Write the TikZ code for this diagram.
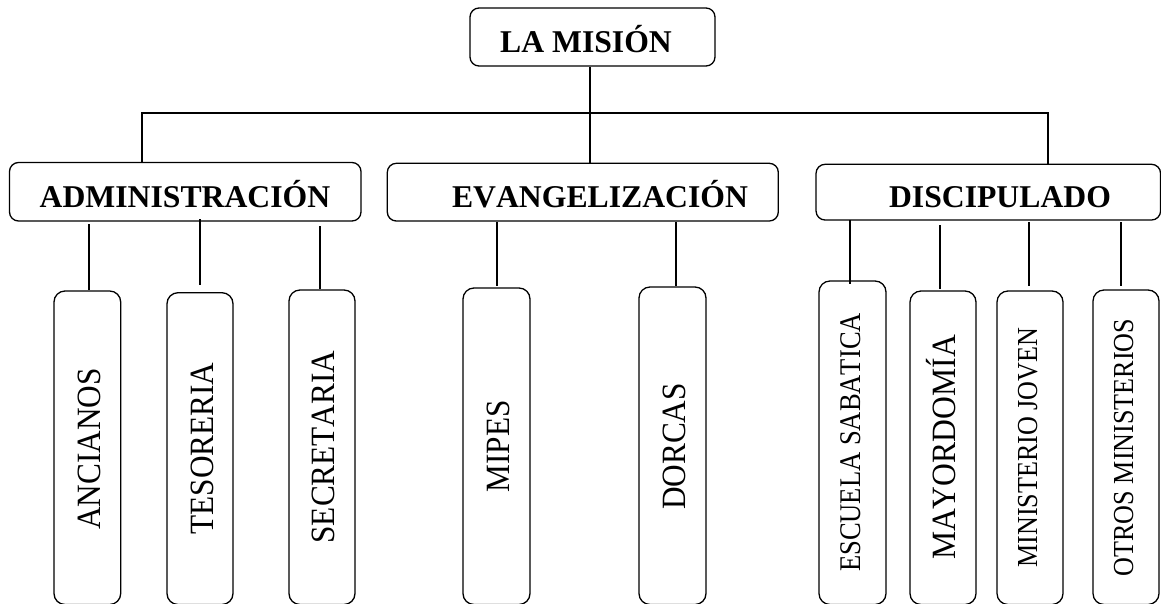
\documentclass[tikz,border=0pt]{standalone}
\usepackage{fontspec}
\setmainfont[Kerning=Off]{Liberation Serif}
\newcommand{\vtx}[3]{\fontsize{#1}{#1}\selectfont\scalebox{#2}[1]{#3}}
\begin{document}
\begin{tikzpicture}[x=1pt,y=-1pt,
  line width=1.3pt,
  hbox/.style={draw, rounded corners=9pt, inner sep=0pt},
  vbox/.style={draw, rounded corners=11pt, inner sep=0pt},
  htext/.style={font=\fontsize{31.7}{32}\selectfont\bfseries, anchor=base, inner sep=0pt},
  vtext/.style={rotate=90, anchor=base, inner sep=0pt},
  link/.style={line width=1.3pt}]

\useasboundingbox (0,0) rectangle (1161,603);

% ---- boxes ----
\node[hbox, minimum width=245pt, minimum height=58pt] (top) at (592.5,37) {};
\node[hbox, minimum width=351.5pt, minimum height=58.5pt] (adm) at (185.25,191.75) {};
\node[hbox, minimum width=391pt, minimum height=57.7pt] (eva) at (582.8,192.15) {};
\node[hbox, minimum width=344.5pt, minimum height=55.7pt] (dis) at (988.3,192.15) {};

\node[vbox, minimum width=66.7pt, minimum height=313.5pt] (anc) at (87.35,447.75) {};
\node[vbox, minimum width=66pt, minimum height=311.8pt] (tes) at (200,448.6) {};
\node[vbox, minimum width=66pt, minimum height=314.5pt] (sec) at (322,447.25) {};
\node[vbox, minimum width=67pt, minimum height=316.5pt] (mip) at (496.5,446.25) {};
\node[vbox, minimum width=67pt, minimum height=317.5pt] (dor) at (672.5,445.75) {};
\node[vbox, minimum width=67pt, minimum height=323.5pt] (esc) at (852.5,442.75) {};
\node[vbox, minimum width=66pt, minimum height=313.5pt] (may) at (943,447.75) {};
\node[vbox, minimum width=66pt, minimum height=313.5pt] (min) at (1030,447.75) {};
\node[vbox, minimum width=66pt, minimum height=314.5pt] (otr) at (1126,447.25) {};

% ---- texts ----
\node[htext] (tTop) at (586,52) {LA MISIÓN};
\node[htext] (tAdm) at (185,207) {ADMINISTRACIÓN};
\node[htext] (tEva) at (600,207) {EVANGELIZACIÓN};
\node[htext] (tDis) at (1000,207) {DISCIPULADO};

\node[vtext] (lAnc) at (100,449) {\vtx{34}{0.92}{ANCIANOS}};
\node[vtext] (lTes) at (213,448.5) {\vtx{34}{0.92}{TESORERIA}};
\node[vtext] (lSec) at (334,447) {\vtx{34}{0.92}{SECRETARIA}};
\node[vtext] (lMip) at (509,446.5) {\vtx{34}{0.92}{MIPES}};
\node[vtext] (lDor) at (685,446.5) {\vtx{34}{0.92}{DORCAS}};
\node[vtext] (lEsc) at (860,442.5) {\vtx{30}{0.885}{ESCUELA SABATICA}};
\node[vtext] (lMay) at (955,447.5) {\vtx{34}{0.93}{MAYORDOMÍA}};
\node[vtext] (lMin) at (1037,447.5) {\vtx{29}{0.9}{MINISTERIO JOVEN}};
\node[vtext] (lOtr) at (1133,447.5) {\vtx{29}{0.9}{OTROS MINISTERIOS}};

% ---- bus ----
\coordinate (b1) at (142,113);
\coordinate (b2) at (590,113);
\coordinate (b3) at (1048,113);
\draw[link] (top.south -| b2) -- (eva.north -| b2);
\draw[link] (adm.north -| b1) -- (b1) -- (b3) -- (dis.north -| b3);

% ---- lower connectors ----
\coordinate (a1) at (89,224);   \coordinate (a2) at (89,291);
\coordinate (t1) at (200,219);  \coordinate (t2) at (200,285);
\coordinate (s1) at (320,226);  \coordinate (s2) at (320,290);
\coordinate (m1) at (497,222);  \coordinate (m2) at (497,286);
\coordinate (d1) at (676,222);  \coordinate (d2) at (676,286);
\coordinate (e1) at (850,220);  \coordinate (e2) at (850,284);
\coordinate (y1) at (940,225);  \coordinate (y2) at (940,289);
\coordinate (j1) at (1029,222); \coordinate (j2) at (1029,286);
\coordinate (o1) at (1121,222); \coordinate (o2) at (1121,286);
\draw[link] (a1) -- (a2 |- anc.north);
\draw[link] (t1) -- (t2);
\draw[link] (s1) -- (s2 |- sec.north);
\draw[link] (m1) -- (m2);
\draw[link] (d1) -- (d2);
\draw[link] (e1) -- (e2);
\draw[link] (y1) -- (y2);
\draw[link] (j1) -- (j2);
\draw[link] (o1) -- (o2);
\end{tikzpicture}
\end{document}
